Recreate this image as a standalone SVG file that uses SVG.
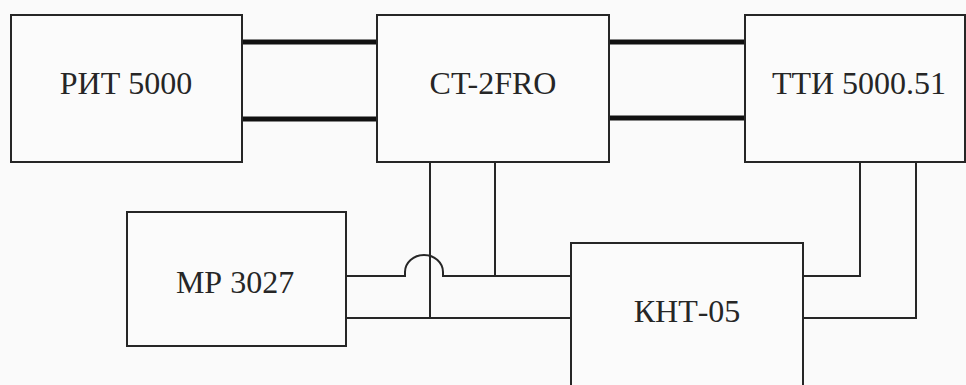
<svg xmlns="http://www.w3.org/2000/svg" width="966" height="385" viewBox="0 0 966 385">
<style>
.box{fill:#fbfbfb;stroke:#262626;stroke-width:2}
.lbl{font-family:'Times New Roman',Tinos,'Noto Serif','Liberation Serif','DejaVu Serif',serif;font-size:32px;fill:#262626;text-anchor:middle}
.thick{stroke:#111;stroke-width:5;fill:none}
.thin{stroke:#262626;stroke-width:2;fill:none}
</style>
<rect x="0" y="0" width="966" height="385" fill="#fafafa"/>
<g id="connectors">
<line class="thick" x1="242" y1="42" x2="377" y2="42"/>
<line class="thick" x1="242" y1="119" x2="377" y2="119"/>
<line class="thick" x1="609" y1="42" x2="745" y2="42"/>
<line class="thick" x1="609" y1="118" x2="745" y2="118"/>
<line class="thin" x1="430" y1="162" x2="430" y2="318"/>
<line class="thin" x1="495" y1="162" x2="495" y2="276"/>
<path class="thin" d="M346 276 H405 V272 A19 17 0 0 1 443 272 V276 H571"/>
<line class="thin" x1="346" y1="318" x2="571" y2="318"/>
<path class="thin" d="M803 276 H860 V162"/>
<path class="thin" d="M803 318 H916 V162"/>
</g>
<g id="rit5000">
<rect class="box" x="11" y="15" width="231" height="147"/>
<text class="lbl" x="126" y="94">РИТ 5000</text>
</g>
<g id="ct2fro">
<rect class="box" x="377" y="15" width="232" height="147"/>
<text class="lbl" x="493" y="94">CT-2FRO</text>
</g>
<g id="tti">
<rect class="box" x="745" y="15" width="220" height="147"/>
<text class="lbl" x="859" y="94">ТТИ 5000.51</text>
</g>
<g id="mp3027">
<rect class="box" x="127" y="212" width="219" height="134"/>
<text class="lbl" x="235" y="293">МР 3027</text>
</g>
<g id="knt05">
<rect class="box" x="571" y="243" width="232" height="160"/>
<text class="lbl" x="687" y="322">КНТ-05</text>
</g>
</svg>
